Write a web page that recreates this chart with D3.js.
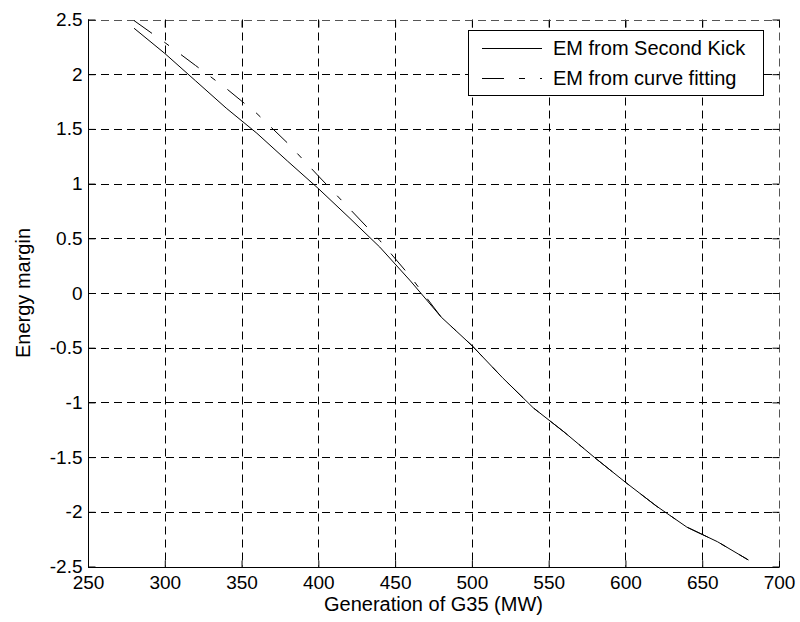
<!DOCTYPE html>
<html>
<head>
<meta charset="utf-8">
<script src="https://cdn.jsdelivr.net/npm/d3@7"></script>
<style>
  html, body { margin: 0; padding: 0; background: #fff; }
  svg text { font-family: "Liberation Sans", Arial, Helvetica, sans-serif; fill: #000; }
</style>
</head>
<body>
<svg id="chart" width="800" height="622"></svg>
<script>
// ---- data ----
const xTickValues = [250, 300, 350, 400, 450, 500, 550, 600, 650, 700];
const yTickValues = [-2.5, -2, -1.5, -1, -0.5, 0, 0.5, 1, 1.5, 2, 2.5];
const yTickLabels = ["-2.5", "-2", "-1.5", "-1", "-0.5", "0", "0.5", "1", "1.5", "2", "2.5"];
const genMW = [280, 300, 320, 340, 360, 380, 400, 420, 440, 460, 480, 500, 520, 540, 560, 580, 600, 620, 640, 660, 680];
const emSecondKick = [2.42, 2.19, 1.94, 1.69, 1.46, 1.205, 0.955, 0.69, 0.42, 0.11, -0.22, -0.48, -0.775, -1.05, -1.27, -1.505, -1.73, -1.946, -2.14, -2.274, -2.44];
const emCurveFit = [2.49, 2.29, 2.08, 1.87, 1.64, 1.37, 1.07, 0.775, 0.48, 0.15, -0.22, -0.48, -0.775, -1.05, -1.27, -1.505, -1.73, -1.946, -2.14, -2.274, -2.44];
const seriesNames = ["EM from Second Kick", "EM from curve fitting"];
const xLabel = "Generation of G35 (MW)";
const yLabel = "Energy margin";

// ---- layout ----
const svg = d3.select("#chart");
const L = 88, R = 779, T = 19.5, B = 566.5;
const x = d3.scaleLinear().domain([250, 700]).range([L, R]);
const y = d3.scaleLinear().domain([-2.5, 2.5]).range([B, T]);

// grid
const grid = svg.append("g").attr("stroke", "#000").attr("stroke-width", 1)
  .attr("stroke-dasharray", "8,5").attr("fill", "none");
xTickValues.forEach(v => {
  grid.append("line").attr("x1", Math.round(x(v)) + 0.5).attr("x2", Math.round(x(v)) + 0.5)
    .attr("y1", T).attr("y2", B).attr("stroke", v === 700 ? "#555" : "#000");
});
yTickValues.forEach(v => {
  grid.append("line").attr("y1", Math.round(y(v)) + 0.5).attr("y2", Math.round(y(v)) + 0.5)
    .attr("x1", L).attr("x2", R).attr("stroke", v === 2.5 ? "#555" : "#000");
});

// lines
const line = d3.line().x((d, i) => x(genMW[i])).y(d => y(d));
svg.append("path").datum(emSecondKick).attr("d", line)
  .attr("fill", "none").attr("stroke", "#000").attr("stroke-width", 1);
svg.append("path").datum(emCurveFit).attr("d", line)
  .attr("fill", "none").attr("stroke", "#000").attr("stroke-width", 1)
  .attr("stroke-dasharray", "22,15,6,15");

// axes (left & bottom solid, ticks inward)
const xAxisB = d3.axisBottom(x).tickValues(xTickValues).tickSize(-7).tickPadding(8).tickFormat(d3.format("d"));
const gx = svg.append("g").attr("transform", `translate(0,${Math.round(B) + 0.5})`).call(xAxisB);
gx.select(".domain").attr("d", `M${L},0H${R}`).attr("stroke", "#000");
gx.selectAll("text").attr("font-size", 19).attr("dy", "0.71em");

const xAxisT = d3.axisTop(x).tickValues(xTickValues).tickSize(-7).tickFormat("");
const gxt = svg.append("g").attr("transform", `translate(0,${Math.round(T) + 0.5})`).call(xAxisT);
gxt.select(".domain").remove();

const yAxisL = d3.axisLeft(y).tickValues(yTickValues).tickSize(-7).tickPadding(6)
  .tickFormat((d, i) => yTickLabels[i]);
const gy = svg.append("g").attr("transform", `translate(${Math.round(L) + 0.5},0)`).call(yAxisL);
gy.select(".domain").attr("d", `M0,${T}V${B}`).attr("stroke", "#000");
gy.selectAll("text").attr("font-size", 19);

const yAxisR = d3.axisRight(y).tickValues(yTickValues).tickSize(-7).tickFormat("");
const gyr = svg.append("g").attr("transform", `translate(${Math.round(R) + 0.5},0)`).call(yAxisR);
gyr.select(".domain").remove();

[gx, gxt, gy, gyr].forEach(g => g.selectAll("line").attr("stroke", "#000"));
[gx, gy].forEach(g => g.selectAll("text").attr("font-family", "Liberation Sans, Arial, sans-serif").attr("fill", "#000"));

// axis labels
svg.append("text").attr("x", (L + R) / 2).attr("y", 611).attr("text-anchor", "middle")
  .attr("font-size", 20).text(xLabel);
svg.append("text").attr("transform", `translate(30,${(T + B) / 2}) rotate(-90)`)
  .attr("text-anchor", "middle").attr("font-size", 20).text(yLabel);

// legend
const lg = svg.append("g");
lg.append("rect").attr("x", 468.5).attr("y", 30.5).attr("width", 295).attr("height", 65)
  .attr("fill", "#fff").attr("stroke", "#000").attr("stroke-width", 1);
const rows = [48, 78];
seriesNames.forEach((name, i) => {
  const ln = lg.append("line").attr("x1", 482).attr("x2", 542).attr("y1", rows[i] + 0.5).attr("y2", rows[i] + 0.5)
    .attr("stroke", "#000").attr("stroke-width", 1);
  if (i === 1) ln.attr("stroke-dasharray", "22,15,6,15");
  lg.append("text").attr("x", 553).attr("y", rows[i]).attr("dy", "0.35em")
    .attr("font-size", 20).text(name);
});
</script>
</body>
</html>
